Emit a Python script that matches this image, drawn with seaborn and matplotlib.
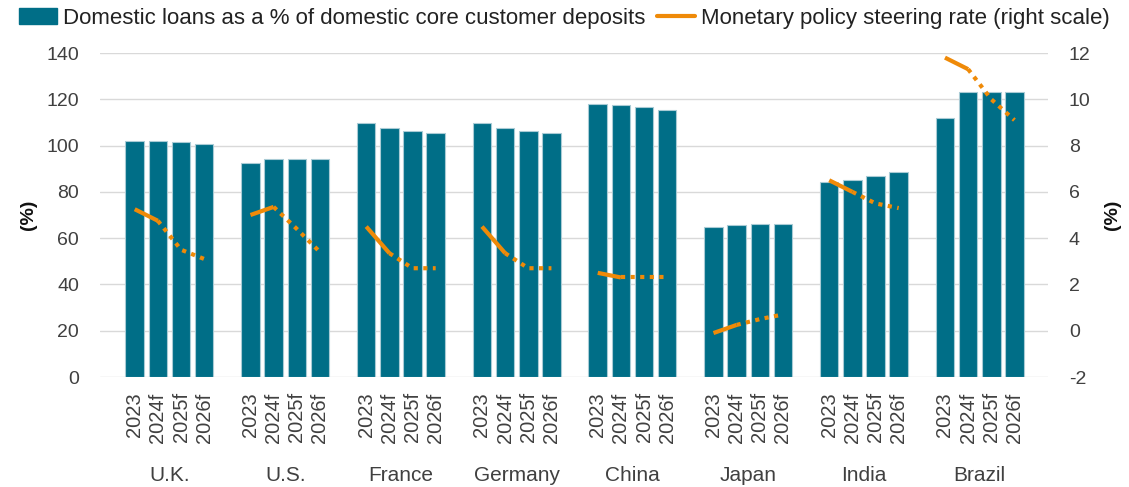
import pandas as pd
import matplotlib
matplotlib.use("Agg")
import matplotlib.pyplot as plt
from matplotlib.patches import Patch
from matplotlib.lines import Line2D
import seaborn as sns

# --- data ---
countries = ["U.K.", "U.S.", "France", "Germany", "China", "Japan", "India", "Brazil"]
years = ["2023", "2024f", "2025f", "2026f"]

# domestic loans as % of domestic core customer deposits (left scale)
loans_2023 = [102.0, 92.3, 109.6, 109.6, 117.8, 65.0, 84.4, 111.8]
loans_2024f = [101.8, 94.0, 107.7, 107.7, 117.7, 65.6, 85.1, 123.3]
loans_2025f = [101.5, 94.0, 106.4, 106.4, 116.8, 66.1, 86.9, 123.3]
loans_2026f = [100.5, 94.0, 105.3, 105.3, 115.3, 66.1, 88.5, 123.3]

# monetary policy steering rate (right scale)
rate_2023 = [5.25, 5.0, 4.5, 4.5, 2.5, -0.1, 6.5, 11.8]
rate_2024f = [4.75, 5.35, 3.35, 3.35, 2.3, 0.25, 6.0, 11.3]
rate_2025f = [3.5, 4.4, 2.7, 2.7, 2.3, 0.5, 5.5, 10.0]
rate_2026f = [3.1, 3.4, 2.7, 2.7, 2.3, 0.7, 5.3, 9.1]

TEAL = "#006e87"
ORANGE = "#ef8a08"
GRID = "#d9d9d9"
TXT = "#404040"

loans = [loans_2023, loans_2024f, loans_2025f, loans_2026f]
rates = [rate_2023, rate_2024f, rate_2025f, rate_2026f]

rows = []
for g, c in enumerate(countries):
    for j, yr in enumerate(years):
        rows.append({"country": c, "year": yr, "pos": g * 5 + j,
                     "loans": loans[j][g], "rate": rates[j][g]})
df = pd.DataFrame(rows)

sns.set_style("white")
plt.rcParams["font.family"] = ["Liberation Sans", "DejaVu Sans"]
plt.rcParams["axes.unicode_minus"] = False

fig = plt.figure(figsize=(11.29, 4.87), dpi=100)
ax = fig.add_axes([100 / 1129, 1 - 377 / 487, 948 / 1129, 324 / 487])

sns.barplot(data=df, x="pos", y="loans", native_scale=True, color=TEAL,
            saturation=1, width=0.8, errorbar=None, edgecolor="#a9cbd5",
            linewidth=0.8, ax=ax, zorder=2)

ax.set_xlim(-1.5, 39.45)
ax.set_ylim(0, 140)
ax.set_yticks(range(0, 141, 20))
ax.yaxis.grid(True, color=GRID, lw=1, zorder=0)
ax.set_axisbelow(True)
for s in ax.spines.values():
    s.set_visible(False)

ax.set_xticks(df["pos"], df["year"], rotation=90, fontsize=14.5, color=TXT)
ax.tick_params(axis="x", length=0, pad=11)
ax.tick_params(axis="y", length=0, pad=15, labelsize=14, labelcolor=TXT)
ax.set_xlabel("")
ax.set_ylabel("(%)", fontsize=14, fontweight="bold", color="#111111", labelpad=7)

for g, c in enumerate(countries):
    ax.text(g * 5 + 1.5, -0.305, c, transform=ax.get_xaxis_transform(),
            ha="center", va="center", fontsize=15, color=TXT)

ax2 = ax.twinx()
for g, c in enumerate(countries):
    sub = df[df["country"] == c]
    sns.lineplot(x=sub["pos"].iloc[:2], y=sub["rate"].iloc[:2], ax=ax2,
                 color=ORANGE, lw=3, solid_capstyle="butt")
    sns.lineplot(x=sub["pos"].iloc[1:], y=sub["rate"].iloc[1:], ax=ax2,
                 color=ORANGE, lw=3, linestyle=(0, (1, 1.3)), dash_capstyle="butt")
ax2.set_ylim(-2, 12)
ax2.set_yticks(range(-2, 13, 2))
ax2.tick_params(axis="y", length=0, pad=15, labelsize=14, labelcolor=TXT)
ax2.set_ylabel("(%)", fontsize=14, fontweight="bold", color="#111111", labelpad=10)
for s in ax2.spines.values():
    s.set_visible(False)

handles = [Patch(facecolor=TEAL, edgecolor=TEAL),
           Line2D([0], [0], color=ORANGE, lw=3)]
labels = ["Domestic loans as a % of domestic core customer deposits",
          "Monetary policy steering rate (right scale)"]
fig.legend(handles, labels, loc="center", bbox_to_anchor=(0.5, 0.962), ncol=2,
           frameon=False, handlelength=1.7, handletextpad=0.3, columnspacing=0.5,
           prop={"size": 16}, labelcolor="#222222")

fig.savefig("out.png", dpi=100)
